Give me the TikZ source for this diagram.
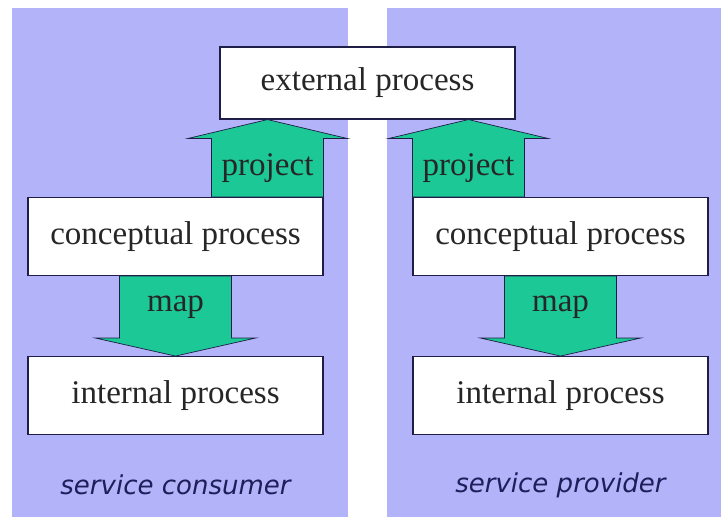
\documentclass[tikz,border=0pt]{standalone}
\usepackage{fontspec}
\setmainfont{Liberation Serif}
\newfontfamily\rolefont{DejaVu Sans}
\usetikzlibrary{positioning,calc}

\definecolor{panelblue}{RGB}{179,179,250}
\definecolor{mapgreen}{RGB}{28,200,150}
\definecolor{edgenavy}{RGB}{30,30,70}
\definecolor{rolenavy}{RGB}{30,30,90}

\tikzset{
  process/.style={draw=edgenavy,fill=white,line width=0.8pt,minimum width=7.375cm,
    minimum height=1.95cm,font=\fontsize{23.5}{28}\selectfont,text=black!85},
  fat/.style={draw=edgenavy,fill=mapgreen,line width=0.5pt},
  fatlabel/.style={font=\fontsize{23.5}{28}\selectfont,text=black!85},
  role/.style={font=\rolefont\itshape\fontsize{18.5}{22}\selectfont,text=rolenavy}
}

% shaft start, tip, signed head length, label
\newcommand{\fatarrow}[4]{%
  \draw[fat] ($(#1)+(-1.4,0)$) -- ($(#2)+(-1.4,#3)$) -- ($(#2)+(-2,#3)$) -- (#2)
    -- ($(#2)+(2,#3)$) -- ($(#2)+(1.4,#3)$) -- ($(#1)+(1.4,0)$) -- cycle;
  \node[fatlabel] at ($(#1)!0.5!(#2)+(0,#3/2)$) {#4};}

\begin{document}
\begin{tikzpicture}
    \useasboundingbox (0,0) rectangle (18.025,12.925);
    \fill[panelblue] (0.3,0) rectangle (8.7,12.725);
    \fill[panelblue] (9.675,0) rectangle (18.025,12.725);

    \coordinate (top) at (9.1875,10.85);
    \node[process,minimum height=1.8cm] (ext) at (top) {external process};
    \node[process] (conL) at (4.3875,7.0125) {conceptual process};
    \node[process] (conR) at (14.0125,7.0125) {conceptual process};
    \node[process,below=2 of conL] (intL) {internal process};
    \node[process,below=2 of conR] (intR) {internal process};
    \node[role] (consumer) at ($(intL.south)+(0,-1.25)$) {service consumer};
    \node[role] (provider) at ($(intR.south)+(0,-1.25)$) {service provider};

    \coordinate (projL) at ($(conL.north east)+(-1.4,0)$);
    \coordinate (projR) at ($(conR.north west)+(1.4,0)$);
    \fatarrow{projL}{projL |- ext.south}{-0.475}{project}
    \fatarrow{projR}{projR |- ext.south}{-0.475}{project}
    \fatarrow{conL.south}{intL.north}{0.45}{map}
    \fatarrow{conR.south}{intR.north}{0.45}{map}
\end{tikzpicture}
\end{document}
